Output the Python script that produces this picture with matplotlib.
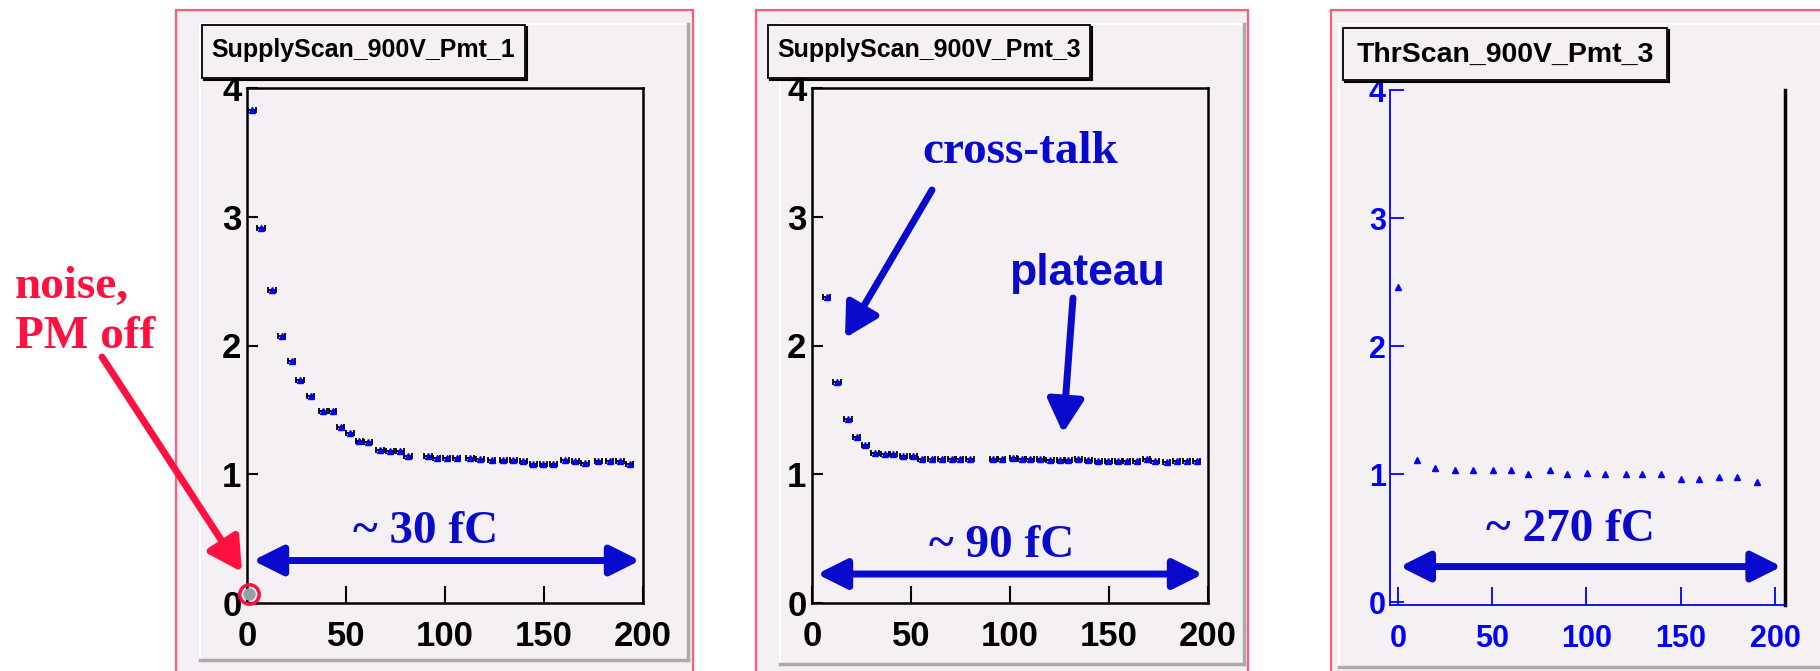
import matplotlib
matplotlib.use('Agg')
import matplotlib.pyplot as plt
from matplotlib.patches import Rectangle

W, H = 1820, 671

# SupplyScan_900V_Pmt_1
pmt1_x = [2.5, 7.1, 12.6, 17.5, 22.6, 26.8, 32.2, 38.4, 43.4, 47.3, 52.0, 56.6, 61.1, 67.2,
          72.2, 77.3, 81.3, 91.4, 95.8, 100.9, 105.9, 112.6, 117.7, 123.6, 129.4, 134.5,
          139.5, 144.6, 149.6, 154.7, 160.6, 165.7, 170.7, 177.4, 183.3, 188.4, 193.4]
pmt1_y = [3.83, 2.91, 2.43, 2.07, 1.88, 1.73, 1.61, 1.49, 1.49, 1.37, 1.32, 1.26, 1.25, 1.19,
          1.18, 1.18, 1.14, 1.14, 1.13, 1.13, 1.13, 1.13, 1.12, 1.11, 1.11, 1.11,
          1.10, 1.08, 1.08, 1.08, 1.11, 1.10, 1.09, 1.10, 1.10, 1.10, 1.08]
noise_x = [1.0]
noise_y = [0.07]

# SupplyScan_900V_Pmt_3
pmt3_x = [7.4, 12.6, 18.2, 22.6, 26.8, 31.8, 36.9, 41.1, 46.1, 51.2, 55.4, 60.5, 65.5, 70.6,
          74.7, 79.8, 91.6, 95.8, 101.7, 105.9, 110.1, 115.2, 120.2, 125.3, 129.5, 134.5,
          139.6, 144.6, 149.7, 154.7, 159.0, 164.0, 169.0, 173.2, 179.1, 184.2, 189.2, 194.3]
pmt3_y = [2.38, 1.72, 1.43, 1.29, 1.23, 1.165, 1.155, 1.155, 1.14, 1.14, 1.12, 1.12, 1.12, 1.115,
          1.12, 1.12, 1.12, 1.12, 1.13, 1.115, 1.115, 1.115, 1.11, 1.11, 1.11, 1.115,
          1.11, 1.105, 1.10, 1.10, 1.10, 1.105, 1.12, 1.105, 1.095, 1.105, 1.105, 1.10]

# ThrScan_900V_Pmt_3
thr_x = [0.0, 9.9, 19.6, 30.2, 40.0, 50.2, 59.8, 69.0, 80.6, 89.8, 100.4, 109.6, 120.8,
         129.6, 139.4, 150.0, 159.6, 170.2, 179.9, 190.5]
thr_y = [2.46, 1.11, 1.05, 1.03, 1.03, 1.03, 1.03, 1.005, 1.03, 1.005, 1.01, 1.005, 1.0,
         1.0, 1.0, 0.96, 0.96, 0.98, 0.98, 0.94]

titles = ['SupplyScan_900V_Pmt_1', 'SupplyScan_900V_Pmt_3', 'ThrScan_900V_Pmt_3']
ranges = ['~ 30 fC', '~ 90 fC', '~ 270 fC']
xticks = [0, 50, 100, 150, 200]
yticks = [0, 1, 2, 3, 4]

PAD = '#f5f0f4'
FRAME = '#ff5c7a'
ANN_BLUE = '#0a0acd'
ANN_RED = '#ff1040'
SANS = 'Liberation Sans'
SERIF = 'Liberation Serif'


def px_rect(x0, y0, x1, y1):
    # pixel box (top-left origin) -> figure fraction rect
    return [x0 / W, 1 - y1 / H, (x1 - x0) / W, (y1 - y0) / H]


fig = plt.figure(figsize=(W / 100, H / 100), dpi=100)

# background: pads and frames in pixel coordinates
bg = fig.add_axes([0, 0, 1, 1], zorder=-1)
bg.set_xlim(0, W)
bg.set_ylim(H, 0)
bg.axis('off')
for (x0, x1, ix0, ix1, ib) in [(176, 693, 200, 688, 660), (756, 1248, 780, 1244, 664),
                               (1331, 1840, 1339, 1840, 667)]:
    bg.add_patch(Rectangle((x0, 10), x1 - x0, 700, facecolor=PAD, edgecolor=FRAME, lw=1.6))
    bg.plot([ix0, ix1], [24, 24], color='white', lw=1.5)
    bg.plot([ix0, ix0], [24, ib], color='white', lw=1.5)
    bg.plot([ix0, ix1], [ib, ib], color='#aaaaaa', lw=2.5)
    bg.plot([ix1, ix1], [24, ib], color='#aaaaaa', lw=2.5)

ax1 = fig.add_axes(px_rect(247, 88, 643, 603))
ax2 = fig.add_axes(px_rect(812, 88, 1208, 603))
ax3 = fig.add_axes(px_rect(1390, 90, 1785, 605))

for ax in (ax1, ax2):
    ax.set_facecolor(PAD)
    ax.set_xlim(0, 200)
    ax.set_ylim(0, 4)
    for s in ax.spines.values():
        s.set_linewidth(1.8)
    ax.set_xticks(xticks)
    ax.set_yticks(yticks)
    ax.tick_params(axis='x', direction='in', length=12, width=1.5, pad=12)
    ax.tick_params(axis='y', direction='in', length=8, width=1.5, pad=4)
    for lab in ax.get_xticklabels() + ax.get_yticklabels():
        lab.set_fontfamily(SANS)
        lab.set_fontweight('bold')
        lab.set_fontsize(25)

eb = dict(fmt='^', color='blue', mec='blue', ecolor='black', elinewidth=1.3,
          capsize=2.5, capthick=1.3, markersize=5)
ax1.errorbar(pmt1_x, pmt1_y, xerr=1.8, **eb)
ax2.errorbar(pmt3_x, pmt3_y, xerr=1.8, **eb)

# noise point with PM off
ax1.plot(noise_x, noise_y, 'o', color='#8fa3a3', markersize=8, clip_on=False, zorder=5)
ax1.plot(noise_x, noise_y, 'o', mfc='none', mec=ANN_RED, mew=2.5, markersize=14,
         clip_on=False, zorder=6)

# third panel: blue axes, black right edge
ax3.set_facecolor(PAD)
ax3.set_xlim(-4.2, 205.3)
ax3.set_ylim(-0.02, 4)
ax3.spines['top'].set_visible(False)
ax3.spines['left'].set_color('blue')
ax3.spines['bottom'].set_color('blue')
ax3.spines['left'].set_linewidth(1.3)
ax3.spines['bottom'].set_linewidth(1.3)
ax3.spines['right'].set_linewidth(2.5)
ax3.set_xticks(xticks)
ax3.set_yticks(yticks)
ax3.tick_params(axis='x', direction='in', length=13, width=1.3, pad=14, colors='blue')
ax3.tick_params(axis='y', direction='in', length=10, width=1.3, pad=3, colors='blue')
for lab in ax3.get_xticklabels() + ax3.get_yticklabels():
    lab.set_fontfamily(SANS)
    lab.set_fontweight('bold')
    lab.set_fontsize(22)
ax3.plot(thr_x, thr_y, '^', color='blue', markersize=5)

# double arrows with charge range labels
arr = dict(arrowstyle='<|-|>,head_length=0.9,head_width=0.45', color=ANN_BLUE, lw=5,
           mutation_scale=20, shrinkA=0, shrinkB=0)
for ax, (xa, xb, ya), (xt, yt), txt in [
        (ax1, (3, 198.5, 0.33), (90, 0.466), ranges[0]),
        (ax2, (2.5, 197.5, 0.225), (96, 0.36), ranges[1]),
        (ax3, (1.0, 203.5, 0.28), (91.3, 0.48), ranges[2])]:
    ax.annotate('', xy=(xb, ya), xytext=(xa, ya), arrowprops=arr)
    ax.text(xt, yt, txt, ha='center', va='baseline', color=ANN_BLUE, fontsize=34,
            fontfamily=SERIF, fontweight='bold')

# overlay: title boxes and callouts in pixel coordinates
ov = fig.add_axes([0, 0, 1, 1], zorder=10)
ov.set_xlim(0, W)
ov.set_ylim(H, 0)
ov.axis('off')
ov.patch.set_alpha(0)

for (x0, y0, x1, y1), t, fs, yb in [((202, 25, 525, 78), titles[0], 18, 57),
                                     ((768, 25, 1090, 78), titles[1], 18, 57),
                                     ((1343, 28, 1667, 80), titles[2], 20.5, 62)]:
    ov.add_patch(Rectangle((x0, y0), x1 - x0, y1 - y0, facecolor=PAD, edgecolor='black', lw=1.3))
    ov.plot([x0 + 2, x1 + 1.5], [y1 + 1.5, y1 + 1.5], color='black', lw=1.5)
    ov.plot([x1 + 1.5, x1 + 1.5], [y0 + 2, y1 + 1.5], color='black', lw=1.5)
    ov.text((x0 + x1) / 2, yb, t, ha='center', va='baseline', fontsize=fs,
            fontfamily=SANS, fontweight='bold', color='black')

call = dict(arrowstyle='-|>,head_length=1.0,head_width=0.55', lw=5, mutation_scale=20,
            shrinkA=0, shrinkB=0)
ov.annotate('', xy=(845, 338), xytext=(932, 190), arrowprops=dict(call, color=ANN_BLUE))
ov.annotate('', xy=(1063, 433), xytext=(1073, 298), arrowprops=dict(call, color=ANN_BLUE))
ov.annotate('', xy=(242, 572), xytext=(102, 357), arrowprops=dict(call, color=ANN_RED))

ov.text(1020, 163, 'cross-talk', ha='center', va='baseline', color=ANN_BLUE, fontsize=34,
        fontfamily=SERIF, fontweight='bold')
ov.text(1087, 285, 'plateau', ha='center', va='baseline', color=ANN_BLUE, fontsize=32,
        fontfamily=SANS, fontweight='bold')
ov.text(15, 298, 'noise,', ha='left', va='baseline', color=ANN_RED, fontsize=34,
        fontfamily=SERIF, fontweight='bold')
ov.text(15, 348, 'PM off', ha='left', va='baseline', color=ANN_RED, fontsize=34,
        fontfamily=SERIF, fontweight='bold')

fig.savefig('out.png', dpi=100)
